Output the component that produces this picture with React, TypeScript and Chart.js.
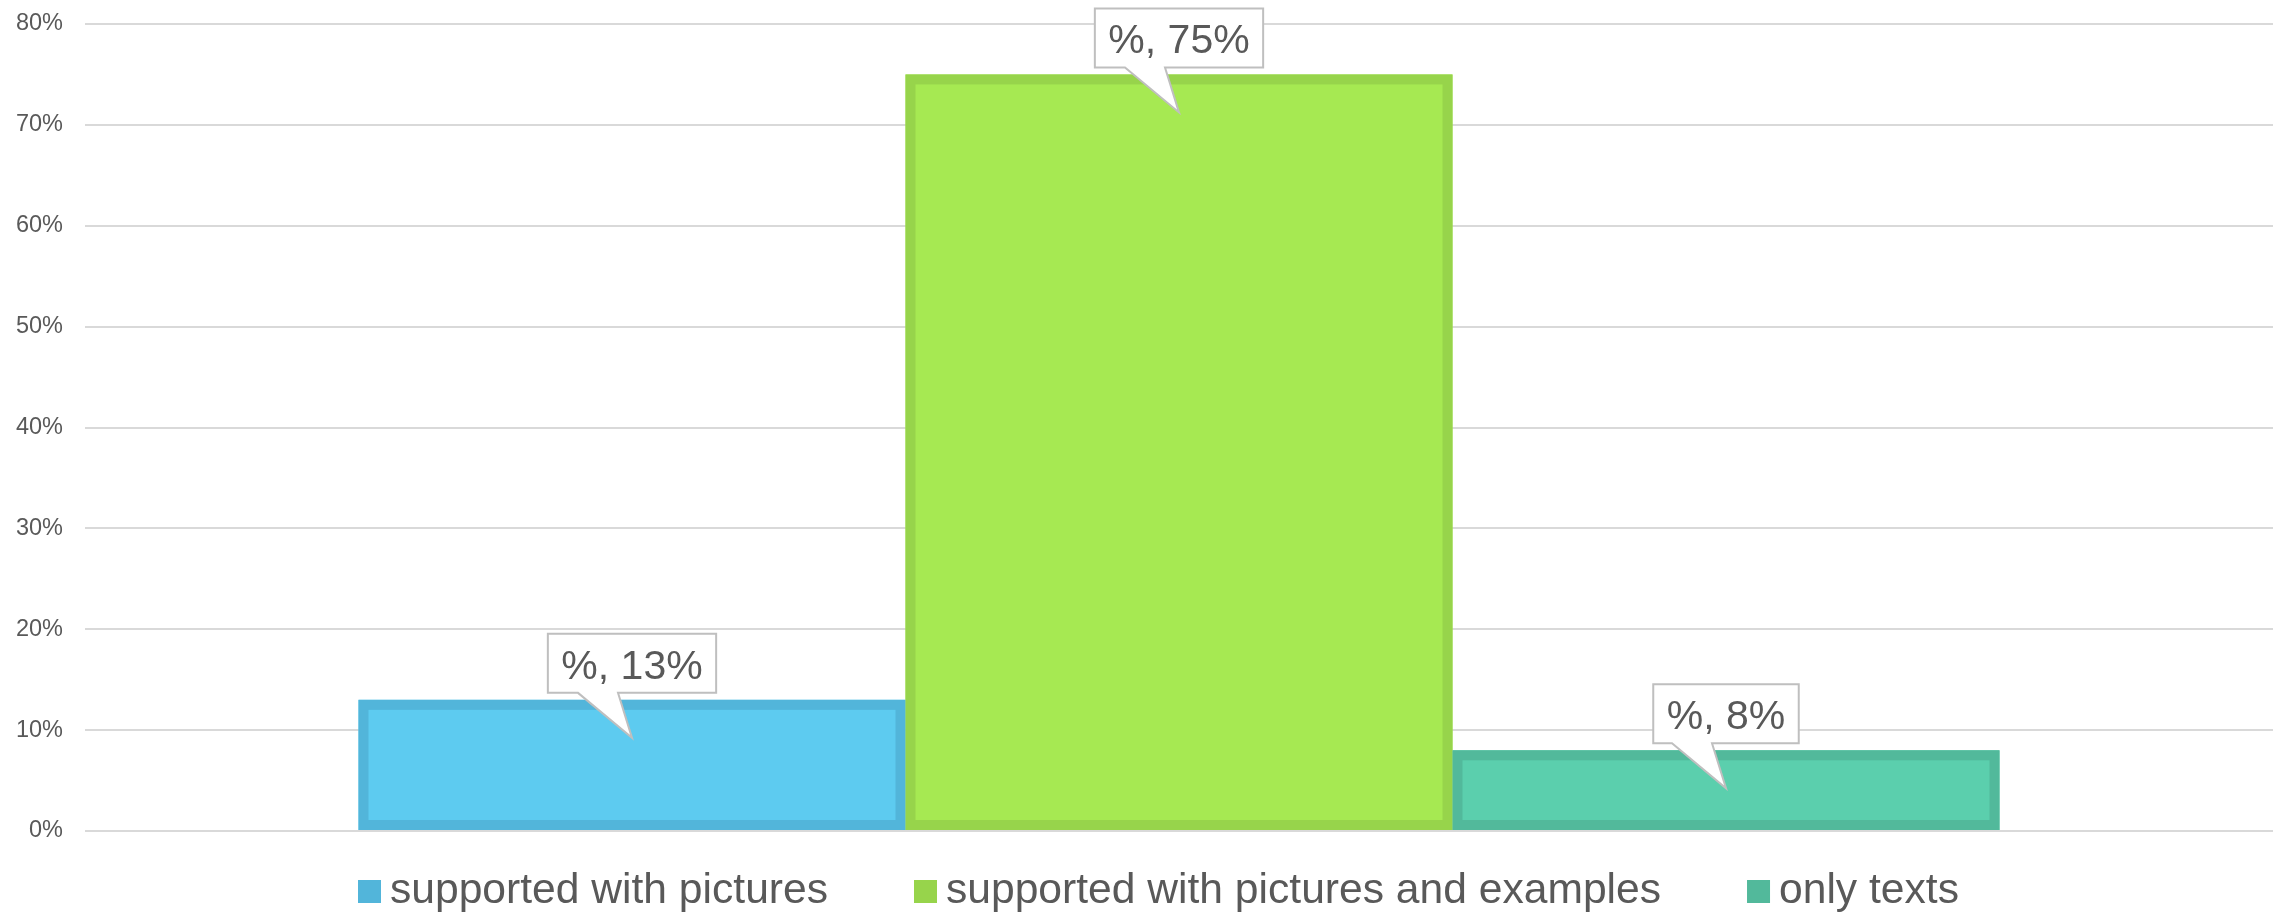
import React, { useEffect, useRef } from "react";
import { Chart, registerables } from "chart.js";

Chart.register(...registerables);

// Data
const categories = [""];
const seriesNames = [
  "supported with pictures",
  "supported with pictures and examples",
  "only texts",
];
const seriesValues = [13, 75, 8];
const fillColors = ["#5DCBF0", "#A6E952", "#5BCFAD"];
const edgeColors = ["#52B5DA", "#97D44B", "#52B99B"];
const yMin = 0;
const yMax = 80;
const yStep = 10;

const TEXT_COLOR = "#595959";
const FONT_FAMILY = '"Liberation Sans", Arial, Helvetica, sans-serif';
const EDGE = 10;

// Thick darker frame drawn inside each bar
const barEdgePlugin = {
  id: "barEdges",
  afterDatasetsDraw(chart: any) {
    const ctx = chart.ctx as CanvasRenderingContext2D;
    chart.data.datasets.forEach((ds: any, i: number) => {
      const meta = chart.getDatasetMeta(i);
      const bar = meta.data[0];
      if (!bar) return;
      const { x, y, base, width } = bar.getProps(["x", "y", "base", "width"], true);
      const left = x - width / 2;
      const top = Math.min(y, base);
      const h = Math.abs(base - y);
      ctx.save();
      ctx.strokeStyle = ds.borderColor;
      ctx.lineWidth = EDGE;
      ctx.strokeRect(left + EDGE / 2, top + EDGE / 2, width - EDGE, h - EDGE);
      ctx.restore();
    });
  },
};

// Speech-bubble value labels above each bar
const calloutPlugin = {
  id: "callouts",
  afterDatasetsDraw(chart: any) {
    const ctx = chart.ctx as CanvasRenderingContext2D;
    chart.data.datasets.forEach((ds: any, i: number) => {
      const meta = chart.getDatasetMeta(i);
      const bar = meta.data[0];
      if (!bar) return;
      const cx = bar.x;
      const ty = bar.y;
      const text = `%, ${ds.data[0]}%`;
      ctx.save();
      ctx.font = `41px ${FONT_FAMILY}`;
      const tw = ctx.measureText(text).width;
      const w = tw + 27;
      const l = cx - w / 2;
      const r = cx + w / 2;
      const t = ty - 66;
      const b = ty - 7;
      ctx.beginPath();
      ctx.moveTo(l, t);
      ctx.lineTo(r, t);
      ctx.lineTo(r, b);
      ctx.lineTo(cx - 14, b);
      ctx.lineTo(cx, ty + 38);
      ctx.lineTo(cx - 54, b);
      ctx.lineTo(l, b);
      ctx.closePath();
      ctx.fillStyle = "#ffffff";
      ctx.fill();
      ctx.strokeStyle = "#bfbfbf";
      ctx.lineWidth = 2;
      ctx.lineJoin = "miter";
      ctx.stroke();
      ctx.fillStyle = TEXT_COLOR;
      ctx.textAlign = "center";
      ctx.textBaseline = "alphabetic";
      ctx.fillText(text, cx, ty - 21);
      ctx.restore();
    });
  },
};

// Legend row under the plot
const legendPlugin = {
  id: "bottomLegend",
  afterDraw(chart: any) {
    const ctx = chart.ctx as CanvasRenderingContext2D;
    ctx.save();
    ctx.font = `42.6px ${FONT_FAMILY}`;
    ctx.textBaseline = "alphabetic";
    ctx.textAlign = "left";
    let x = 358;
    const boxTop = 880;
    const box = 23;
    const baseline = 903;
    chart.data.datasets.forEach((ds: any) => {
      ctx.fillStyle = ds.borderColor;
      ctx.fillRect(x, boxTop, box, box);
      const tx = x + box + 9;
      ctx.fillStyle = TEXT_COLOR;
      ctx.fillText(ds.label, tx, baseline);
      x = tx + ctx.measureText(ds.label).width + 86;
    });
    ctx.restore();
  },
};

export default function App() {
  const canvasRef = useRef<HTMLCanvasElement | null>(null);

  useEffect(() => {
    if (!canvasRef.current) return;
    const chart = new Chart(canvasRef.current, {
      type: "bar",
      data: {
        labels: categories,
        datasets: seriesNames.map((name, i) => ({
          label: name,
          data: [seriesValues[i]],
          backgroundColor: fillColors[i],
          borderColor: edgeColors[i],
          borderWidth: 0,
          inflateAmount: 0,
          categoryPercentage: 0.75,
          barPercentage: 1.0,
        })),
      },
      options: {
        responsive: false,
        animation: false,
        devicePixelRatio: 1,
        layout: { padding: { top: 24, right: 10, bottom: 82, left: 0 } },
        scales: {
          x: { display: false },
          y: {
            min: yMin,
            max: yMax,
            ticks: {
              stepSize: yStep,
              padding: 22,
              color: TEXT_COLOR,
              font: { size: 23.5, family: FONT_FAMILY },
              callback: (v: any) => `${v}%`,
            },
            grid: { color: "#d9d9d9", lineWidth: 2, drawTicks: false },
            border: { display: false },
            afterFit: (s: any) => {
              s.width = 85;
              s.paddingTop = 0;
              s.paddingBottom = 0;
            },
          },
        },
        plugins: {
          legend: { display: false },
          tooltip: { enabled: false },
        },
      },
      plugins: [barEdgePlugin, calloutPlugin, legendPlugin],
    });
    return () => chart.destroy();
  }, []);

  return (
    <div style={{ position: "absolute", left: 0, top: 0, width: 2283, height: 913, background: "#ffffff" }}>
      <canvas ref={canvasRef} width={2283} height={913} />
    </div>
  );
}
